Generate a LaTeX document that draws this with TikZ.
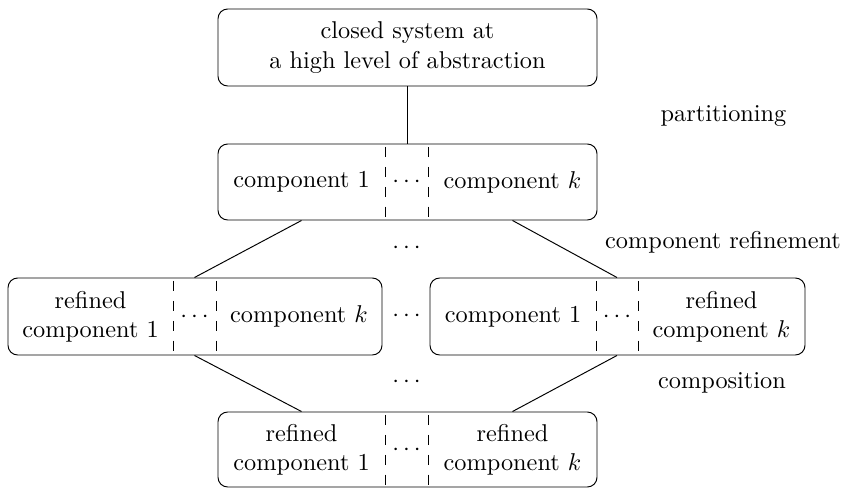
\documentclass[tikz,border=0pt]{standalone}
\begin{document}
\begin{tikzpicture}[x=0.4115pt,y=-0.4115pt,
  box/.style={draw, rounded corners=4pt, inner sep=0pt},
  txt/.style={align=center, inner sep=0pt},
  dotsn/.style={inner sep=0pt, anchor=base},
  sep/.style={dash pattern=on 4.3pt off 3.9pt, dash phase=6.8pt},
  lbl/.style={inner sep=0pt}]
\useasboundingbox (0,0) rectangle (847,488);
% boxes
\node[box, minimum width=379*0.4115pt, minimum height=77*0.4115pt] (top) at (407.5,47.5) {};
\node[box, minimum width=379*0.4115pt, minimum height=76*0.4115pt] (mid) at (407.5,182) {};
\node[box, minimum width=374*0.4115pt, minimum height=77*0.4115pt] (left) at (195,316.5) {};
\node[box, minimum width=375*0.4115pt, minimum height=77*0.4115pt] (right) at (617.5,316.5) {};
\node[box, minimum width=379*0.4115pt, minimum height=75*0.4115pt] (bot) at (407.5,449.5) {};
% separator positions
\coordinate (ms1) at (385,0); \coordinate (ms2) at (428,0);
\coordinate (ls1) at (173,0); \coordinate (ls2) at (216,0);
\coordinate (rs1) at (596,0); \coordinate (rs2) at (638,0);
\coordinate (bs1) at (385,0); \coordinate (bs2) at (428,0);
\foreach \b/\s in {mid/ms1,mid/ms2,left/ls1,left/ls2,right/rs1,right/rs2,bot/bs1,bot/bs2}
  \draw[sep] (\b.north -| \s) -- (\b.south -| \s);
% texts
\node[txt] (toptxt) at (407.5,47.5) {closed system at\\a high level of abstraction};
\node[txt] (m1) at (301.5,182) {component 1};
\node[dotsn] (md) at (406.5,188) {$\cdots$};
\node[txt] (mk) at (512.5,182) {component $k$};
\node[txt] (l1) at (90.5,316.5) {refined\\component 1};
\node[dotsn] (ld) at (194.5,322.5) {$\cdots$};
\node[txt] (lk) at (299,316.5) {component $k$};
\node[txt] (r1) at (513,316.5) {component 1};
\node[dotsn] (rd) at (617,322.5) {$\cdots$};
\node[txt] (rk) at (721.5,316.5) {refined\\component $k$};
\node[txt] (b1) at (301.5,449.5) {refined\\component 1};
\node[dotsn] (bd) at (406.5,455.5) {$\cdots$};
\node[txt] (bk) at (512.5,449.5) {refined\\component $k$};
% dots between
\node[dotsn] (d1) at (406.5,254) {$\cdots$};
\node[dotsn] (d2) at (406.5,321.5) {$\cdots$};
\node[dotsn] (d3) at (406.5,388) {$\cdots$};
% labels
\node[lbl] (p) at (723.5,116) {partitioning};
\node[lbl] (cr) at (723,242) {component refinement};
\node[lbl] (cp) at (722,382.5) {composition};
% connectors
\draw (top) -- (mid);
\draw (mid.south -| m1) -- (left.north -| ld);
\draw (mid.south -| mk) -- (right.north -| rd);
\draw (left.south -| ld) -- (bot.north -| b1);
\draw (right.south -| rd) -- (bot.north -| bk);
\end{tikzpicture}
\end{document}
